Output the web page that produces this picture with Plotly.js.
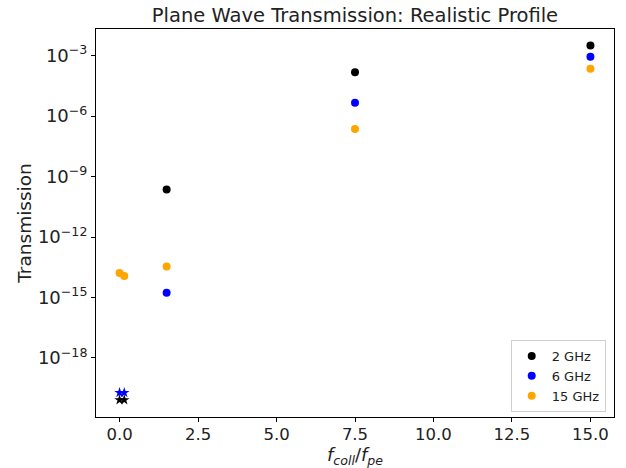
<!DOCTYPE html>
<html>
<head>
<meta charset="utf-8">
<script src="https://cdn.plot.ly/plotly-3.0.1.min.js"></script>
<style>html,body{margin:0;padding:0;background:#fff;}#chart{width:626px;height:468px;}</style>
</head>
<body>
<div id="chart"></div>
<script>
// Collision frequency ratio f_coll/f_pe
const xCircles2 = [1.5, 7.5, 15];
const xCircles6 = [1.5, 7.5, 15];
const xCircles15 = [0, 0.15, 1.5, 7.5, 15];
const trans2GHz = [2.3e-10, 1.5e-4, 3.2e-3];
const trans6GHz = [1.7e-15, 4.6e-6, 8.9e-4];
const trans15GHz = [1.66e-14, 1.17e-14, 3.4e-14, 2.3e-7, 2.2e-4];
// Star markers near x = 0 (no legend entry)
const xStars = [0, 0.15];
const stars2GHz = [8.3e-21, 8.3e-21];
const stars6GHz = [1.9e-20, 1.9e-20];
const seriesNames = ['2 GHz', '6 GHz', '15 GHz'];
const seriesColors = ['#000000', '#0000ff', '#ffa500'];
const xTickVals = [0, 2.5, 5, 7.5, 10, 12.5, 15];
const xTickText = ['0.0', '2.5', '5.0', '7.5', '10.0', '12.5', '15.0'];
const yTickVals = [1e-18, 1e-15, 1e-12, 1e-9, 1e-6, 1e-3];
const yTickText = ['10<sup>\u221218</sup>', '10<sup>\u221215</sup>', '10<sup>\u221212</sup>',
                   '10<sup>\u22129</sup>', '10<sup>\u22126</sup>', '10<sup>\u22123</sup>'];

const font = 'DejaVu Sans, sans-serif';
const traces = [
  {x: xCircles2, y: trans2GHz, name: seriesNames[0], mode: 'markers', type: 'scatter',
   marker: {color: seriesColors[0], size: 8}},
  {x: xCircles6, y: trans6GHz, name: seriesNames[1], mode: 'markers', type: 'scatter',
   marker: {color: seriesColors[1], size: 8}},
  {x: xCircles15, y: trans15GHz, name: seriesNames[2], mode: 'markers', type: 'scatter',
   marker: {color: seriesColors[2], size: 8}},
  {x: xStars, y: stars2GHz, mode: 'markers', type: 'scatter', showlegend: false, hoverinfo: 'skip',
   marker: {color: seriesColors[0], size: 8, symbol: 'star'}},
  {x: xStars, y: stars6GHz, mode: 'markers', type: 'scatter', showlegend: false, hoverinfo: 'skip',
   marker: {color: seriesColors[1], size: 8, symbol: 'star'}}
];

const layout = {
  width: 626, height: 468,
  margin: {l: 96, r: 12, t: 29, b: 51},
  paper_bgcolor: '#fff', plot_bgcolor: '#fff',
  font: {family: font, color: '#000'},
  showlegend: true,
  title: {text: 'Plane Wave Transmission: Realistic Profile', font: {family: font, size: 19.5, color: '#222'},
          x: 0.567, xanchor: 'center', y: 0.968, yanchor: 'middle'},
  xaxis: {
    range: [-0.75, 15.75], tickvals: xTickVals, ticktext: xTickText,
    ticks: 'outside', ticklen: 4, tickcolor: '#000', showgrid: false, zeroline: false,
    showline: true, linecolor: '#000', linewidth: 1, mirror: true,
    ticklabelstandoff: -2,
    tickfont: {family: font, size: 16.5, color: '#222'},
    title: {text: '<i>f</i><sub><i>coll</i></sub>/<i>f</i><sub><i>pe</i></sub>', font: {family: font, size: 18, color: '#222'}, standoff: 4}
  },
  yaxis: {
    type: 'log', range: [-20.93, -1.68],
    tickvals: yTickVals, ticktext: yTickText,
    ticks: 'outside', ticklen: 4, tickcolor: '#000', showgrid: false, zeroline: false,
    showline: true, linecolor: '#000', linewidth: 1, mirror: true,
    tickfont: {family: font, size: 18, color: '#222'},
    title: {text: 'Transmission', font: {family: font, size: 18.5, color: '#222'}, standoff: 1}
  },
  legend: {
    x: 0.984, y: 0.013, xanchor: 'right', yanchor: 'bottom',
    bgcolor: '#fff', bordercolor: '#d0d0d0', borderwidth: 1,
    font: {family: font, size: 13, color: '#222'}
  }
};

Plotly.newPlot('chart', traces, layout, {displayModeBar: false, staticPlot: true});
</script>
</body>
</html>
